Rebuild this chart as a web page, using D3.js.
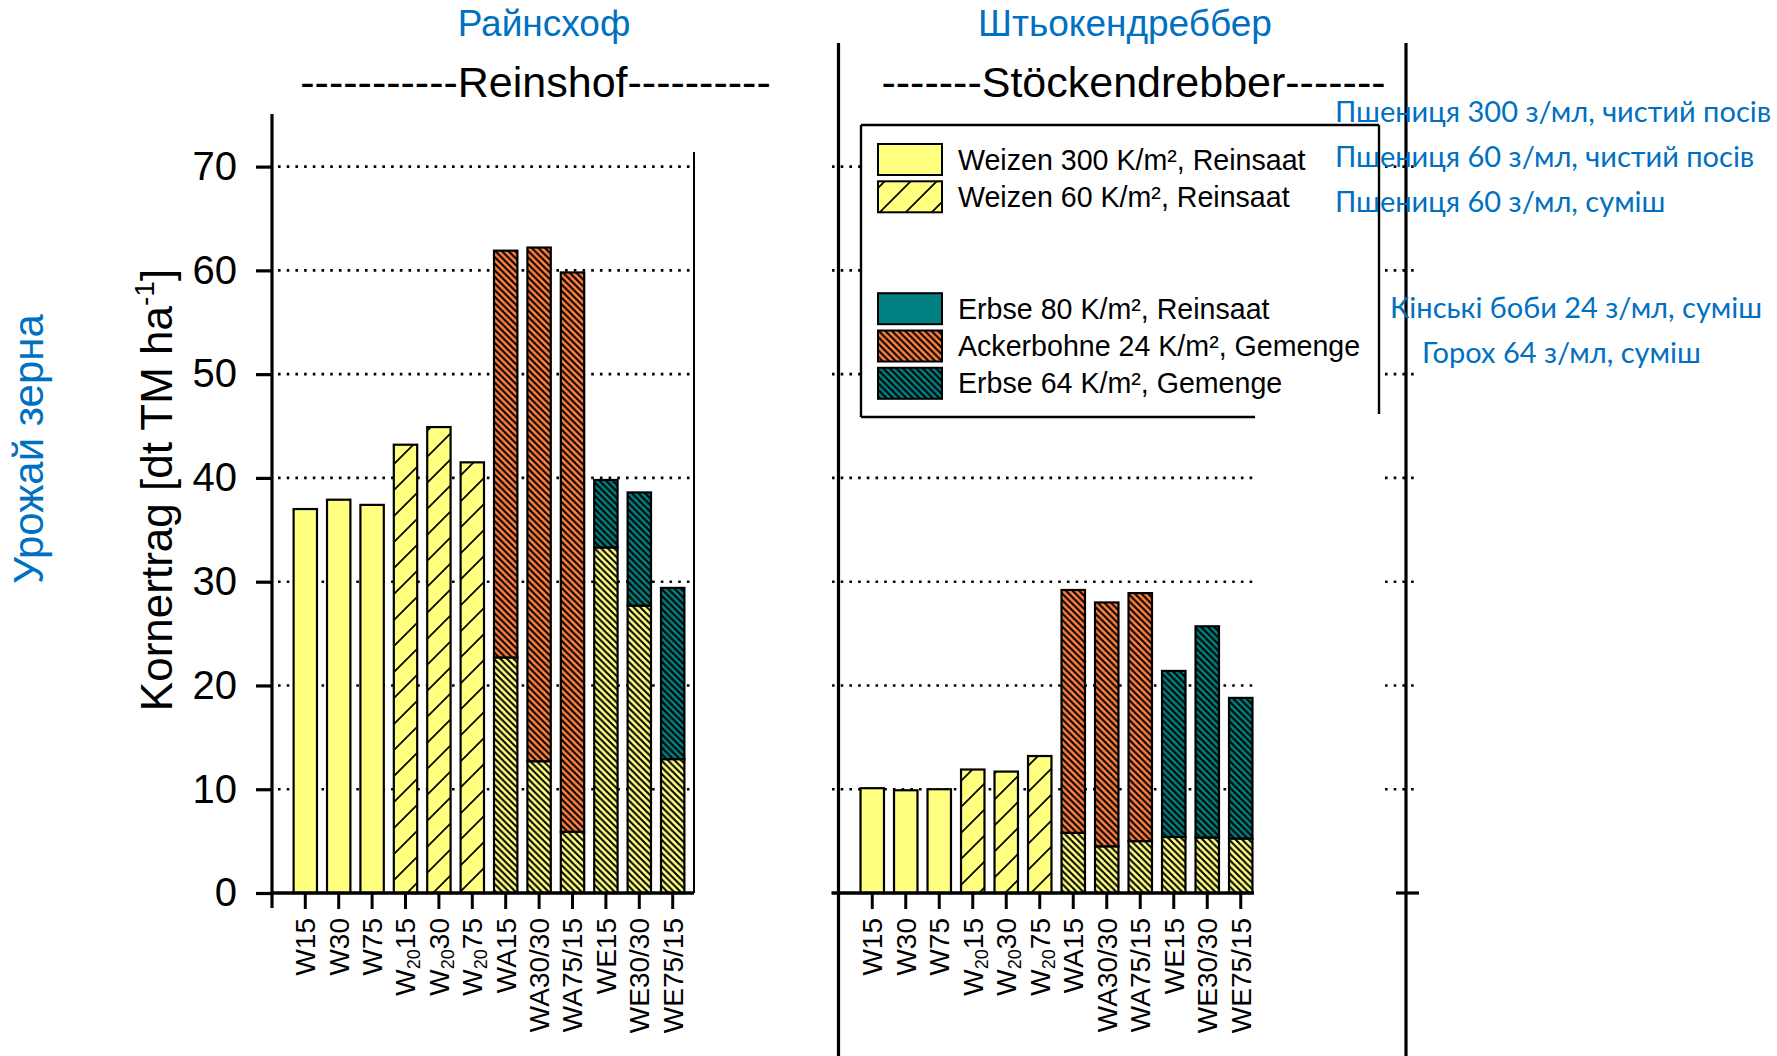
<!DOCTYPE html>
<html>
<head>
<meta charset="utf-8">
<script src="https://cdn.jsdelivr.net/npm/d3@7"></script>
<style>
  html, body { margin: 0; padding: 0; background: #fff; overflow: hidden; }
  svg { display: block; }
</style>
</head>
<body>
<svg id="chart" width="1777" height="1056"></svg>
<script>
// ---- data ---------------------------------------------------------------
const categories = ["W15", "W30", "W75", "W20-15", "W20-30", "W20-75",
                    "WA15", "WA30/30", "WA75/15", "WE15", "WE30/30", "WE75/15"];

// grain yield, dt DM per ha: wheat share and legume share (stacked on top)
const reinshofWheat  = [37.0, 37.9, 37.4, 43.2, 44.9, 41.5, 22.7, 12.7, 5.9, 33.3, 27.7, 12.9];
const reinshofLegume = [0, 0, 0, 0, 0, 0, 39.2, 49.5, 53.9, 6.5, 10.9, 16.5];

const stoeckWheat  = [10.1, 9.9, 10.0, 11.9, 11.7, 13.2, 5.8, 4.5, 5.0, 5.4, 5.35, 5.25];
const stoeckLegume = [0, 0, 0, 0, 0, 0, 23.4, 23.5, 23.9, 16.0, 20.35, 13.55];

const yTicks = [0, 10, 20, 30, 40, 50, 60, 70];

const legendLabels = ["Weizen 300 K/m², Reinsaat", "Weizen 60 K/m², Reinsaat",
                      "Erbse 80 K/m², Reinsaat", "Ackerbohne 24 K/m², Gemenge",
                      "Erbse 64 K/m², Gemenge"];
const legendLabelsUa = ["Пшениця 300 з/мл, чистий посів", "Пшениця 60 з/мл, чистий посів",
                        "Пшениця 60 з/мл, суміш", "Кінські боби 24 з/мл, суміш",
                        "Горох 64 з/мл, суміш"];

// ---- setup --------------------------------------------------------------
const svg = d3.select("#chart");
const FONT = "'Liberation Sans', Arial, Helvetica, sans-serif";
const UA_FONT = "Lato, 'Open Sans', sans-serif";
const BLUE = "#0070C0";
const YELLOW = "#FFFF80", ORANGE = "#FF7F40", TEAL = "#008080";

const defs = svg.append("defs");
function hatch(id, bg, size, d, sw) {
  const p = defs.append("pattern").attr("id", id)
    .attr("patternUnits", "userSpaceOnUse")
    .attr("width", size).attr("height", size);
  p.append("rect").attr("width", size).attr("height", size).attr("fill", bg);
  p.append("path").attr("d", d).attr("stroke", "#000")
    .attr("stroke-width", sw).attr("fill", "none");
}
const back = s => `M${-s/2},${s/2}L${s/2},${s*1.5}M0,0L${s},${s}M${s/2},${-s/2}L${s*1.5},${s/2}`;
const fwd  = s => `M0,${s}L${s},0M${-s/2},${s/2}L${s/2},${-s/2}M${s/2},${s*1.5}L${s*1.5},${s/2}`;
hatch("wheatWide",  YELLOW, 26, fwd(26), 1.7);
hatch("wheatDense", YELLOW, 6.6, back(6.6), 2.1);
hatch("beanDense",  ORANGE, 6.6, back(6.6), 2.1);
hatch("peaDense",   TEAL,   6.6, back(6.6), 2.1);

const wheatFill = c => (c.startsWith("WA") || c.startsWith("WE")) ? "url(#wheatDense)"
                     : c.startsWith("W20") ? "url(#wheatWide)" : YELLOW;
const legumeFill = c => c.startsWith("WA") ? "url(#beanDense)" : "url(#peaDense)";

const y = d3.scaleLinear().domain([0, 70]).range([893, 166.6]);

function dotted(g, x1, x2, values) {
  g.selectAll(null).data(values).enter().append("line")
    .attr("x1", x1).attr("x2", x2)
    .attr("y1", d => y(d)).attr("y2", d => y(d))
    .attr("stroke", "#000").attr("stroke-width", 2.6)
    .attr("stroke-dasharray", "2.6 6.1");
}

function tickLabel(sel, c) {
  const m = c.match(/^W20-(\d+)$/);
  if (m) {
    sel.append("tspan").text("W");
    sel.append("tspan").attr("font-size", 18).attr("dy", 5).text("20");
    sel.append("tspan").attr("dy", -5).text(m[1]);
  } else {
    sel.text(c);
  }
}

function drawPanel(o) {
  const g = svg.append("g");
  const x = d3.scaleBand().domain(categories).range(o.band)
    .paddingInner(0.3).paddingOuter(0.15);

  dotted(g, o.gridFrom, o.gridTo, yTicks.slice(1));

  // bars: wheat share at the bottom, legume share stacked above
  categories.forEach((c, i) => {
    const w = o.wheat[i], l = o.legume[i];
    g.append("rect").attr("x", x(c)).attr("width", x.bandwidth())
      .attr("y", y(w)).attr("height", y(0) - y(w))
      .attr("fill", wheatFill(c)).attr("stroke", "#000").attr("stroke-width", 2.2);
    if (l > 0) {
      g.append("rect").attr("x", x(c)).attr("width", x.bandwidth())
        .attr("y", y(w + l)).attr("height", y(w) - y(w + l))
        .attr("fill", legumeFill(c)).attr("stroke", "#000").attr("stroke-width", 2.2);
    }
  });

  // x axis with ticks at each bar
  const ax = g.append("g").attr("transform", `translate(0,${y(0)})`)
    .call(d3.axisBottom(x).tickSize(16).tickSizeOuter(0).tickFormat(""));
  ax.select(".domain").remove();
  ax.selectAll(".tick line").attr("stroke-width", 3);
  g.append("line").attr("x1", o.axisFrom).attr("x2", o.axisTo)
    .attr("y1", y(0)).attr("y2", y(0)).attr("stroke", "#000").attr("stroke-width", 3.4);

  categories.forEach(c => {
    const t = g.append("text")
      .attr("transform", `translate(${x(c) + x.bandwidth() / 2},918) rotate(-90)`)
      .attr("dy", "0.35em").attr("text-anchor", "end")
      .attr("font-family", FONT).attr("font-size", 28).attr("fill", "#000");
    tickLabel(t, c);
  });
  return g;
}

// ---- Reinshof panel ----------------------------------------------------
drawPanel({ band: [288.6, 689.4], gridFrom: 278, gridTo: 694, axisFrom: 272, axisTo: 694,
            wheat: reinshofWheat, legume: reinshofLegume });

const yAx = svg.append("g").attr("transform", "translate(272,0)")
  .call(d3.axisLeft(y).tickValues(yTicks).tickSize(16).tickPadding(19));
yAx.select(".domain").remove();
yAx.selectAll(".tick line").attr("stroke-width", 3.2);
yAx.selectAll(".tick text").attr("font-family", FONT).attr("font-size", 40).attr("fill", "#000");
svg.append("line").attr("x1", 272).attr("x2", 272).attr("y1", 114).attr("y2", 908)
  .attr("stroke", "#000").attr("stroke-width", 3.2);
svg.append("line").attr("x1", 694).attr("x2", 694).attr("y1", 152).attr("y2", y(0))
  .attr("stroke", "#000").attr("stroke-width", 2);

// ---- Stöckendrebber panel ----------------------------------------------
drawPanel({ band: [855.5, 1257.5], gridFrom: 832, gridTo: 1256, axisFrom: 831.5, axisTo: 1254,
            wheat: stoeckWheat, legume: stoeckLegume });
svg.append("line").attr("x1", 838.5).attr("x2", 838.5).attr("y1", 43).attr("y2", 1056)
  .attr("stroke", "#000").attr("stroke-width", 3.2);

// neighbouring axis on the far right
const far = svg.append("g");
dotted(far, 1385, 1419, yTicks.slice(1));
far.append("line").attr("x1", 1396).attr("x2", 1419).attr("y1", y(0)).attr("y2", y(0))
  .attr("stroke", "#000").attr("stroke-width", 3.2);
far.append("line").attr("x1", 1406).attr("x2", 1406).attr("y1", 43).attr("y2", 1056)
  .attr("stroke", "#000").attr("stroke-width", 3.2);

// ---- legend --------------------------------------------------------------
const lg = svg.append("g");
lg.append("rect").attr("x", 861).attr("y", 125).attr("width", 518).attr("height", 292).attr("fill", "#fff");
[[861, 125, 1379, 125], [861, 125, 861, 417], [861, 417, 1255, 417], [1379, 125, 1379, 414]]
  .forEach(([a, b, c, d]) => lg.append("line").attr("x1", a).attr("y1", b).attr("x2", c).attr("y2", d)
    .attr("stroke", "#000").attr("stroke-width", 2.4));
const swatchFills = [YELLOW, "url(#wheatWide)", TEAL, "url(#beanDense)", "url(#peaDense)"];
const slots = [0, 1, 4, 5, 6];
legendLabels.forEach((t, i) => {
  const yy = 144 + slots[i] * 37.3;
  lg.append("rect").attr("x", 878).attr("y", yy).attr("width", 64).attr("height", 31)
    .attr("fill", swatchFills[i]).attr("stroke", "#000").attr("stroke-width", 2);
  lg.append("text").attr("x", 958).attr("y", yy + 25.5)
    .attr("font-family", FONT).attr("font-size", 28.6).attr("fill", "#000").text(t);
});

// ---- titles and axis captions ------------------------------------------
const txt = (x, yy, s, size, fill, anchor, font) => svg.append("text")
  .attr("x", x).attr("y", yy).attr("font-family", font || FONT).attr("font-size", size)
  .attr("fill", fill).attr("text-anchor", anchor || "middle").text(s);

txt(544, 36, "Райнсхоф", 37, BLUE);
txt(1125, 36, "Штьокендреббер", 37, BLUE);
txt(535.5, 97, "-----------Reinshof----------", 43, "#000");
txt(1133.5, 97, "-------Stöckendrebber-------", 43, "#000");

const yl = svg.append("text")
  .attr("transform", "translate(172,490) rotate(-90)")
  .attr("text-anchor", "middle").attr("font-family", FONT).attr("font-size", 44).attr("fill", "#000");
yl.append("tspan").text("Kornertrag [dt TM ha");
yl.append("tspan").attr("font-size", 28).attr("dy", -18).text("-1");
yl.append("tspan").attr("dy", 18).text("]");

svg.append("text")
  .attr("transform", "translate(43,449) rotate(-90)")
  .attr("text-anchor", "middle").attr("font-family", FONT).attr("font-size", 42)
  .attr("fill", BLUE).text("Урожай зерна");

const uaPos = [[1335, 122], [1335, 167], [1335, 212], [1390, 318], [1422, 363]];
legendLabelsUa.forEach((s, i) => txt(uaPos[i][0], uaPos[i][1], s, 29, BLUE, "start", UA_FONT));
</script>
</body>
</html>
